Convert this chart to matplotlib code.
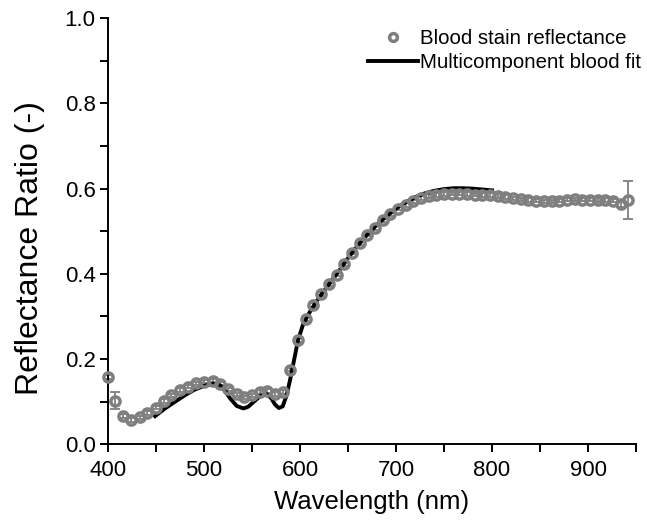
import numpy as np
import matplotlib.pyplot as plt
from matplotlib.ticker import MultipleLocator

plt.rcParams['font.family'] = ['Liberation Sans', 'DejaVu Sans']

label_fs = 18.5
ylabel_fs = 23
tick_fs = 16
legend_fs = 14.7

wl = [400, 407, 416, 424, 433, 441, 450, 458, 466, 475, 483, 492, 500, 509,
      517, 525, 534, 542, 550, 558, 566, 574, 582, 590, 598, 606, 614, 622,
      630, 638, 646, 654, 662, 670, 678, 686, 694, 702, 710, 718, 726, 734,
      742, 750, 758, 766, 774, 782, 790, 798, 806, 814, 822, 830, 838, 846,
      854, 862, 870, 878, 886, 894, 902, 910, 918, 926, 934, 942]
refl = [0.158, 0.102, 0.066, 0.057, 0.063, 0.073, 0.086, 0.101, 0.115, 0.127,
        0.135, 0.143, 0.147, 0.149, 0.142, 0.129, 0.117, 0.110, 0.115, 0.123,
        0.125, 0.118, 0.123, 0.175, 0.245, 0.294, 0.327, 0.353, 0.375, 0.398,
        0.423, 0.450, 0.472, 0.492, 0.508, 0.526, 0.540, 0.553, 0.562, 0.570,
        0.578, 0.583, 0.585, 0.587, 0.588, 0.588, 0.587, 0.586, 0.585, 0.585,
        0.583, 0.580, 0.577, 0.575, 0.573, 0.572, 0.570, 0.570, 0.572, 0.574,
        0.575, 0.574, 0.574, 0.573, 0.573, 0.572, 0.563, 0.574]
refl_err = [0.005, 0.02, 0.005, 0.004, 0.004, 0.004, 0.004, 0.004, 0.004,
            0.004, 0.004, 0.004, 0.004, 0.004, 0.004, 0.004, 0.004, 0.004,
            0.004, 0.004, 0.004, 0.004, 0.004, 0.004, 0.004, 0.004, 0.004,
            0.004, 0.004, 0.004, 0.004, 0.004, 0.004, 0.004, 0.004, 0.004,
            0.004, 0.004, 0.004, 0.004, 0.004, 0.004, 0.004, 0.004, 0.004,
            0.004, 0.004, 0.004, 0.004, 0.004, 0.004, 0.004, 0.004, 0.004,
            0.004, 0.004, 0.004, 0.004, 0.004, 0.004, 0.004, 0.004, 0.004,
            0.004, 0.004, 0.004, 0.006, 0.045]

# multicomponent fit
fit_wl = [449, 460, 470, 480, 490, 500, 510, 517, 522, 527, 534, 541, 546,
          552, 559, 565, 570, 574, 578, 582, 586, 590, 594, 598, 603, 610,
          620, 630, 640, 650, 660, 670, 680, 690, 700, 710, 720, 730, 740,
          750, 760, 770, 780, 790, 800]
fit_val = [0.066, 0.085, 0.100, 0.115, 0.128, 0.137, 0.142, 0.138, 0.125,
           0.108, 0.090, 0.084, 0.088, 0.100, 0.114, 0.118, 0.108, 0.093,
           0.085, 0.089, 0.115, 0.155, 0.200, 0.245, 0.280, 0.310, 0.345,
           0.375, 0.405, 0.437, 0.466, 0.492, 0.515, 0.535, 0.553, 0.568,
           0.580, 0.589, 0.595, 0.599, 0.601, 0.601, 0.600, 0.598, 0.596]

fig = plt.figure(figsize=(6.47, 5.22), dpi=100)
ax = fig.add_axes([0.167, 0.149, 0.816, 0.816])

gray = "#7f7f7f"
ax.errorbar(wl, refl, yerr=refl_err, fmt="none", ecolor=gray,
            elinewidth=1.3, capsize=3.5, capthick=1.3, zorder=2, clip_on=False)
ax.plot(fit_wl, fit_val, color="black", linewidth=2.8, zorder=3,
        label="Multicomponent blood fit")
ax.plot(wl, refl, linestyle="none", marker="o", markersize=6.6,
        markerfacecolor="none", markeredgecolor=gray, markeredgewidth=2.5,
        zorder=4, clip_on=False, label="Blood stain reflectance")

ax.set_xlim(400, 950)
ax.set_ylim(0.0, 1.0)
ax.xaxis.set_major_locator(MultipleLocator(100))
ax.xaxis.set_minor_locator(MultipleLocator(50))
ax.yaxis.set_major_locator(MultipleLocator(0.2))
ax.yaxis.set_minor_locator(MultipleLocator(0.1))
ax.set_xticks([400, 500, 600, 700, 800, 900])
ax.set_yticks([0.0, 0.2, 0.4, 0.6, 0.8, 1.0])
ax.set_yticklabels(["0.0", "0.2", "0.4", "0.6", "0.8", "1.0"])

for side in ["top", "right"]:
    ax.spines[side].set_visible(False)
for side in ["left", "bottom"]:
    ax.spines[side].set_linewidth(1.4)

ax.tick_params(which="both", direction="out", width=1.4, length=5.5,
               labelsize=tick_fs)
ax.tick_params(axis="x", which="major", pad=6)

ax.set_xlabel("Wavelength (nm)", fontsize=label_fs, labelpad=6)
ax.set_ylabel("Reflectance Ratio (-)", fontsize=ylabel_fs)
ax.yaxis.set_label_coords(-0.12, 0.46)

handles, labels = ax.get_legend_handles_labels()
ax.legend(handles[::-1], labels[::-1], loc="upper left", frameon=False,
          fontsize=legend_fs, handlelength=2.45, handletextpad=0.1,
          labelspacing=0.25, borderpad=0.0, borderaxespad=0.0,
          bbox_to_anchor=(0.492, 0.975), markerscale=0.85)

plt.savefig("out.png", dpi=100)
